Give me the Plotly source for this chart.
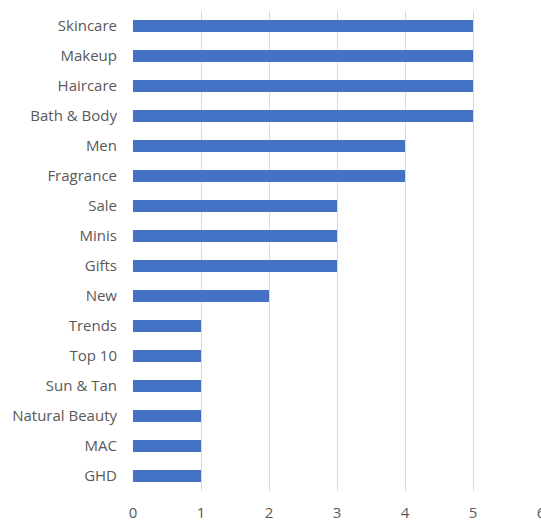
import plotly.graph_objects as go

categories = ["Skincare", "Makeup", "Haircare", "Bath & Body", "Men", "Fragrance",
              "Sale", "Minis", "Gifts", "New", "Trends", "Top 10", "Sun & Tan",
              "Natural Beauty", "MAC", "GHD"]
values = [5, 5, 5, 5, 4, 4, 3, 3, 3, 2, 1, 1, 1, 1, 1, 1]
x_ticks = [0, 1, 2, 3, 4, 5, 6]

fig = go.Figure(go.Bar(
    y=categories, x=values, orientation="h",
    marker=dict(color="#4472C4", line=dict(width=0)),
))

fig.update_layout(
    width=541, height=521,
    margin=dict(l=133, r=0, t=11, b=30),
    plot_bgcolor="white", paper_bgcolor="white",
    bargap=0.6,
    showlegend=False,
    font=dict(family="Open Sans, sans-serif", size=15, color="#595959"),
)
fig.update_xaxes(
    range=[0, 6], tickvals=x_ticks, showgrid=True, gridcolor="#D9D9D9", gridwidth=1,
    zeroline=False, showline=False, automargin=False, ticks="", ticklabelstandoff=11,
    ticklabeloverflow="allow",
)
fig.update_yaxes(
    categoryorder="array", categoryarray=categories, autorange="reversed",
    showgrid=False, zeroline=False, showline=False, automargin=False, ticks="",
    ticklabelstandoff=15,
)

fig.write_html("out.html")
